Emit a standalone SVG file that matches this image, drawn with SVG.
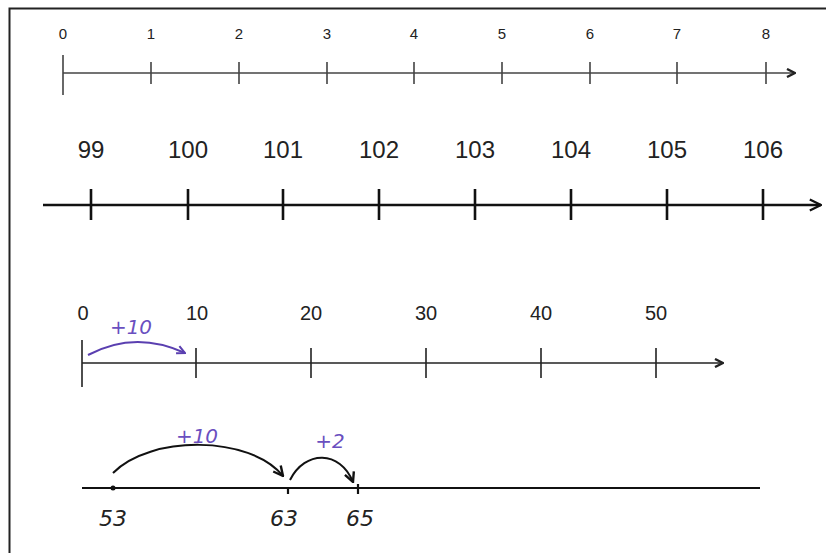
<svg xmlns="http://www.w3.org/2000/svg" width="826" height="553" viewBox="0 0 826 553">
<defs>
<style>
.lbl{font-family:"Liberation Sans",Arial,sans-serif;fill:#222;text-anchor:middle}
.l1{font-size:15px}
.l2{font-size:24px}
.l3{font-size:20px}
.hw{font-family:"DejaVu Sans","Liberation Sans",sans-serif;font-style:italic;text-anchor:middle}
.num4{font-size:22px;fill:#222}
.pur{font-size:20px;fill:#6a4fc0}
.ax1{stroke:#444;stroke-width:1.6;fill:none}
.ax2{stroke:#111;stroke-width:2.6;fill:none}
.ax3{stroke:#222;stroke-width:1.6;fill:none}
.ax4{stroke:#111;stroke-width:2.2;fill:none}
</style>
<marker id="chev" viewBox="0 0 10 10" refX="9" refY="5" markerWidth="10" markerHeight="10" markerUnits="userSpaceOnUse" orient="auto">
<path d="M1,1 L9,5 L1,9" fill="none" stroke="#222" stroke-width="2.4"/>
</marker>
<marker id="chev2" viewBox="0 0 10 10" refX="9" refY="5" markerWidth="14" markerHeight="14" markerUnits="userSpaceOnUse" orient="auto">
<path d="M1,1 L9,5 L1,9" fill="none" stroke="#111" stroke-width="1.6"/>
</marker>
<marker id="chevP" viewBox="0 0 10 10" refX="9" refY="5" markerWidth="10" markerHeight="10" markerUnits="userSpaceOnUse" orient="auto">
<path d="M1,1 L9,5 L1,9" fill="none" stroke="#5a3fb0" stroke-width="2"/>
</marker>
<marker id="chevB" viewBox="0 0 10 10" refX="9" refY="5" markerWidth="12" markerHeight="12" markerUnits="userSpaceOnUse" orient="auto">
<path d="M1,1 L9,5 L1,9" fill="none" stroke="#111" stroke-width="2"/>
</marker>
</defs>
<rect width="826" height="553" fill="#ffffff"/>
<path d="M9.5,553 V8.5 H826" fill="none" stroke="#222" stroke-width="2"/>

<g id="line1">
<line class="ax1" x1="63" y1="73" x2="795" y2="73" marker-end="url(#chev)"/>
<path class="ax1" d="M63,55 V95 M151,62 V84 M239,62 V84 M327,62 V84 M414,62 V84 M502,62 V84 M590,62 V84 M677,62 V84 M766,62 V84"/>
<text class="lbl l1" x="63" y="39">0</text>
<text class="lbl l1" x="151" y="39">1</text>
<text class="lbl l1" x="239" y="39">2</text>
<text class="lbl l1" x="327" y="39">3</text>
<text class="lbl l1" x="414" y="39">4</text>
<text class="lbl l1" x="502" y="39">5</text>
<text class="lbl l1" x="590" y="39">6</text>
<text class="lbl l1" x="677" y="39">7</text>
<text class="lbl l1" x="766" y="39">8</text>
</g>

<g id="line2">
<line class="ax2" x1="43" y1="205" x2="821" y2="205" marker-end="url(#chev2)"/>
<path class="ax2" d="M91,189 V220 M188,189 V220 M283,189 V220 M379,189 V220 M475,189 V220 M571,189 V220 M667,189 V220 M763,189 V220"/>
<text class="lbl l2" x="91" y="158">99</text>
<text class="lbl l2" x="188" y="158">100</text>
<text class="lbl l2" x="283" y="158">101</text>
<text class="lbl l2" x="379" y="158">102</text>
<text class="lbl l2" x="475" y="158">103</text>
<text class="lbl l2" x="571" y="158">104</text>
<text class="lbl l2" x="667" y="158">105</text>
<text class="lbl l2" x="763" y="158">106</text>
</g>

<g id="line3">
<line class="ax3" x1="82" y1="363" x2="723" y2="363" marker-end="url(#chev)"/>
<path class="ax3" d="M82,340 V387 M196,348 V378 M311,348 V378 M426,348 V378 M541,348 V378 M656,348 V378"/>
<text class="lbl l3" x="83" y="320">0</text>
<text class="lbl l3" x="197" y="320">10</text>
<text class="lbl l3" x="311" y="320">20</text>
<text class="lbl l3" x="426" y="320">30</text>
<text class="lbl l3" x="541" y="320">40</text>
<text class="lbl l3" x="656" y="320">50</text>
<path d="M88,355 Q135,330 185,353" fill="none" stroke="#5a3fb0" stroke-width="2" marker-end="url(#chevP)"/>
<text class="hw pur" x="131" y="334">+10</text>
</g>

<g id="line4">
<line class="ax4" x1="82" y1="488" x2="760" y2="488"/>
<circle cx="113" cy="488" r="2.5" fill="#111"/>
<path class="ax4" d="M288,488 V494 M358,484 V494"/>
<text class="hw num4" x="113" y="526">53</text>
<text class="hw num4" x="284" y="526">63</text>
<text class="hw num4" x="360" y="526">65</text>
<path d="M113,473 C150,435 250,435 283,476" fill="none" stroke="#111" stroke-width="2" marker-end="url(#chevB)"/>
<text class="hw pur" x="197" y="443">+10</text>
<path d="M290,480 C305,450 340,450 353,482" fill="none" stroke="#111" stroke-width="2" marker-end="url(#chevB)"/>
<text class="hw pur" x="330" y="448">+2</text>
</g>
</svg>
